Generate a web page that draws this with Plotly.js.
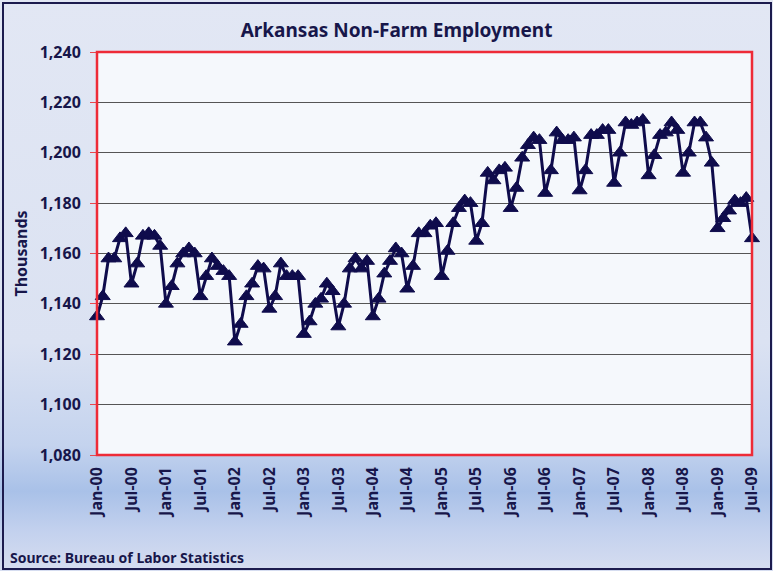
<!DOCTYPE html>
<html>
<head>
<meta charset="utf-8">
<script src="https://cdn.plot.ly/plotly-3.0.1.min.js"></script>
<style>
  html, body { margin: 0; padding: 0; width: 773px; height: 571px; overflow: hidden; }
  #wrap {
    position: absolute; left: 0; top: 0; width: 773px; height: 571px;
    background: linear-gradient(to bottom, #e2e7f4 0%, #dbe2f2 60%, #c4d3ee 78%, #a9c1e8 86%, #c3d1ee 93%, #d6ddf0 100%);
  }
  #frame {
    position: absolute; left: 2px; top: 2px; width: 766px; height: 564px;
    border: 2.5px solid #1c1b4e; pointer-events: none;
  }
  #chart { position: absolute; left: 0; top: 0; width: 773px; height: 571px; }
</style>
</head>
<body>
<div id="wrap"><div id="chart"></div><div id="frame"></div></div>
<script>
// Monthly Arkansas non-farm employment (thousands), Jan 2000 - Jul 2009
const startYear = 2000;
const employment = [
  // 2000
  1135, 1143, 1158, 1158, 1166, 1168, 1148, 1156, 1167, 1168, 1167, 1163,
  // 2001
  1140, 1147, 1156, 1160, 1162, 1160, 1143, 1151, 1158, 1155, 1153, 1151,
  // 2002
  1125, 1132, 1143, 1148, 1155, 1154, 1138, 1143, 1156, 1151, 1151, 1151,
  // 2003
  1128, 1133, 1140, 1142, 1148, 1145, 1131, 1140, 1154, 1158, 1154, 1157,
  // 2004
  1135, 1142, 1152, 1157, 1162, 1160, 1146, 1155, 1168, 1168, 1171, 1172,
  // 2005
  1151, 1161, 1172, 1178, 1181, 1180, 1165, 1172, 1192, 1189, 1193, 1194,
  // 2006
  1178, 1186, 1198, 1203, 1206, 1205, 1184, 1193, 1208, 1205, 1205, 1206,
  // 2007
  1185, 1193, 1207, 1207, 1209, 1209, 1188, 1200, 1212, 1211, 1212, 1213,
  // 2008
  1191, 1199, 1207, 1208, 1212, 1209, 1192, 1200, 1212, 1212, 1206, 1196,
  // 2009
  1170, 1174, 1177, 1181, 1180, 1182, 1166
];
const tickLabels = ["Jan-00","Jul-00","Jan-01","Jul-01","Jan-02","Jul-02","Jan-03","Jul-03",
  "Jan-04","Jul-04","Jan-05","Jul-05","Jan-06","Jul-06","Jan-07","Jul-07",
  "Jan-08","Jul-08","Jan-09","Jul-09"];
const yTicks = [1080, 1100, 1120, 1140, 1160, 1180, 1200, 1220, 1240];

// month index positions (category axis)
const monthIndex = employment.map((_, i) => i);
const tickPositions = tickLabels.map((_, k) => k * 6);

const navy = '#0f0c4c';
const font = 'Noto Sans, Open Sans, sans-serif';

const trace = {
  x: monthIndex,
  y: employment,
  type: 'scatter',
  mode: 'lines+markers',
  line: { color: navy, width: 3 },
  marker: { symbol: 'triangle-up', size: 13, color: navy, line: { color: navy, width: 1 } },
  cliponaxis: false,
  hoverinfo: 'skip'
};

const layout = {
  width: 773, height: 571,
  margin: { l: 97, r: 21, t: 52, b: 116 },
  paper_bgcolor: 'rgba(0,0,0,0)',
  plot_bgcolor: '#f5f8fc',
  showlegend: false,
  title: {
    text: '<b>Arkansas Non-Farm Employment</b>',
    font: { family: font, size: 19, color: '#17164a' },
    x: 0.513, xanchor: 'center', y: 0.947, yanchor: 'middle'
  },
  xaxis: {
    range: [0, employment.length - 1],
    tickmode: 'array',
    tickvals: tickPositions,
    ticktext: tickLabels.map(t => '<b>' + t + '</b>'),
    tickangle: -90,
    tickfont: { family: font, size: 16, color: '#17164a' },
    showgrid: false,
    zeroline: false,
    ticks: '',
    ticklabelstandoff: 8,
    showline: false
  },
  yaxis: {
    range: [1080, 1240],
    tickmode: 'array',
    tickvals: yTicks,
    ticktext: yTicks.map(v => '<b>' + v.toLocaleString('en-US') + '</b>'),
    tickfont: { family: font, size: 16, color: '#17164a' },
    showgrid: true,
    gridcolor: '#555555',
    gridwidth: 1.2,
    zeroline: false,
    ticks: 'outside',
    ticklen: 6,
    tickcolor: '#e8474f',
    ticklabelstandoff: 6,
    title: {
      text: '<b>Thousands</b>',
      font: { family: font, size: 16, color: '#17164a' },
      standoff: 8
    }
  },
  shapes: [{
    type: 'rect', xref: 'paper', yref: 'paper', x0: 0, x1: 1, y0: 0, y1: 1,
    line: { color: '#ee2b37', width: 2.5 }, fillcolor: 'rgba(0,0,0,0)', layer: 'above'
  }],
  annotations: [{
    text: '<b>Source: Bureau of Labor Statistics</b>',
    xref: 'paper', yref: 'paper', x: -97/655 + 8/655, y: -(557-455)/403,
    xanchor: 'left', yanchor: 'middle', showarrow: false,
    font: { family: font, size: 14, color: '#17164a' }
  }]
};

Plotly.newPlot('chart', [trace], layout, { staticPlot: true, displayModeBar: false });
</script>
</body>
</html>
